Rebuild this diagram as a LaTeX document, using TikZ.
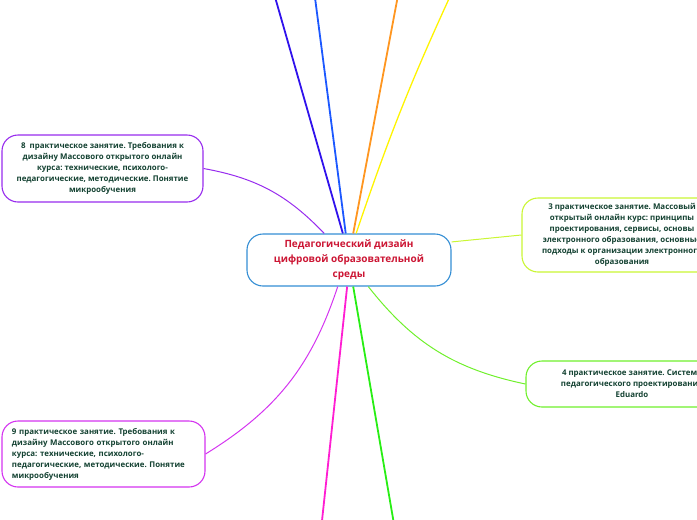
\documentclass[tikz,border=0pt]{standalone}
\usepackage{fontspec}
\setmainfont{Open Sans}
\setsansfont{Open Sans}
\usetikzlibrary{positioning}
\frenchspacing

\definecolor{rootline}{RGB}{52,142,212}
\definecolor{roottext}{RGB}{204,22,52}
\definecolor{leaftext}{RGB}{20,66,50}
\definecolor{indigo}{RGB}{48,18,236}
\definecolor{skyblue}{RGB}{28,88,255}
\definecolor{amber}{RGB}{255,150,32}
\definecolor{lemon}{RGB}{255,244,0}
\definecolor{violet8}{RGB}{152,44,238}
\definecolor{violet9}{RGB}{212,52,240}
\definecolor{pinkish}{RGB}{255,30,210}
\definecolor{grassy}{RGB}{40,238,20}
\definecolor{lime4}{RGB}{112,240,44}
\definecolor{lime3}{RGB}{202,246,52}

\begin{document}
\begin{tikzpicture}[x=1pt,y=-1pt,font=\sffamily\bfseries,
  root/.style={draw=rootline,line width=1.1pt,rounded corners=16pt,fill=white,align=center,text=roottext,font=\fontsize{10}{15}\selectfont\bfseries,minimum width=204pt,minimum height=52pt,inner sep=2pt},
  topic/.style={draw,line width=1.1pt,rounded corners=16pt,fill=white,text=leaftext,font=\fontsize{7.9}{11}\selectfont\bfseries\frenchspacing,inner sep=2pt},
  branch/.style={line width=1.8pt},
  twig/.style={line width=1pt}]
\useasboundingbox (0,0) rectangle (697,520);
\clip (0,0) rectangle (697,520);

% central topic
\node[root] (ctr) at (349,260) {Педагогический дизайн\\цифровой образовательной\\среды};

% subtopics
\node[topic,draw=violet8,align=center,minimum width=201pt,minimum height=67pt] (p8) at (102.5,168.5)
  {8\ \ практическое занятие. Требования к\\дизайну Массового открытого онлайн\\курса: технические, психолого-\\педагогические, методические. Понятие\\микрообучения};
\node[topic,draw=violet9,align=left,text width=183pt,inner xsep=10pt,minimum height=66pt] (p9) at (103.5,454)
  {9 практическое занятие. Требования к\\дизайну Массового открытого онлайн\\курса: технические, психолого-\\педагогические, методические. Понятие\\микрообучения};
\node[topic,draw=lime3,align=center,minimum width=200pt,minimum height=74pt] (p3) at (622,235)
  {3 практическое занятие. Массовый\\открытый онлайн курс: принципы\\проектирования, сервисы, основы\\электронного образования, основные\\подходы к организации электронного\\образования};
\node[topic,draw=lime4,align=center,minimum width=212pt,minimum height=46pt] (p4) at (632,384)
  {4 практическое занятие. Система\\педагогического проектирования\\Eduardo};

% branches leaving the page
\coordinate (up1) at (273,-10);
\coordinate (up2) at (314,-10);
\coordinate (up3) at (399,-10);
\coordinate (up4) at (453,-10);
\coordinate (dn1) at (321,530);
\coordinate (dn2) at (395,530);

\draw[branch,indigo] (ctr.103) -- (up1);
\draw[branch,skyblue] (ctr.97) -- (up2);
\draw[branch,amber] (ctr.81) -- (up3);
\draw[twig,lemon,line width=1.3pt] (ctr.75) to[bend left=3] (up4);
\draw[branch,pinkish] (ctr.266) -- (dn1);
\draw[branch,grassy] (ctr.279) -- (dn2);

% branches to subtopics
\draw[twig,violet8] (ctr.133) to[bend right=18] (p8.east);
\draw[twig,violet9] (ctr.247) to[bend left=20] (p9.east);
\draw[twig,lime3] (ctr.10) -- (p3.west);
\draw[twig,lime4] (ctr.306) to[bend right=20] (p4.west);
\end{tikzpicture}
\end{document}
